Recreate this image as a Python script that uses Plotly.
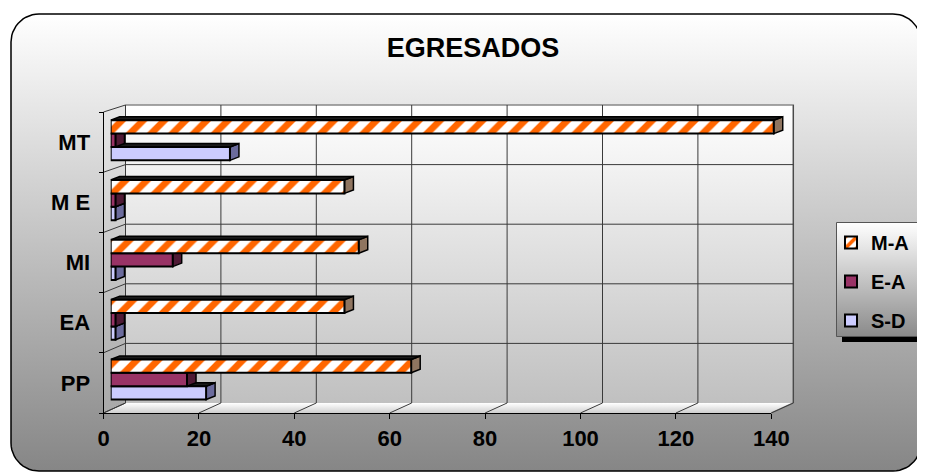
import numpy as np
import plotly.graph_objects as go

# ---------------- data ----------------
categories = ["PP", "EA", "MI", "M E", "MT"]
values_sd = [20, 1, 1, 1, 25]
values_ea = [16, 1, 13, 1, 1]
values_ma = [63, 49, 52, 49, 139]
x_ticks = [0, 20, 40, 60, 80, 100, 120, 140]
title_text = "EGRESADOS"

# ---------------- geometry (viewport pixels) ----------------
W, H = 925, 473
OFF = 8               # page body margin
PXU = 4.77            # pixels per value unit
FRONT0 = 103.5        # front axis zero
BACK0 = 125.5         # back wall zero
BAR0 = 110.7          # bar front face zero
WALL_TOP, WALL_BOT = 105, 403
FRONT_TOP, FRONT_BOT = 112, 413
BAR_TOP, BAR_BOT = 110.4, 409.4
FONT = "Liberation Sans, Arial, sans-serif"


def px(x):
    return (x - OFF) / W


def py(y):
    return 1 - (y - OFF) / H


def xf(t):
    return FRONT0 + t * PXU


def xb(t):
    return BACK0 + t * PXU


def poly(xs, ys, top, bottom, line="rgba(0,0,0,0)", lw=1):
    xs = list(xs) + [xs[0]]
    ys = list(ys) + [ys[0]]
    return go.Scatter(
        x=xs, y=[-v for v in ys], mode="lines", fill="toself",
        fillgradient=dict(type="vertical", colorscale=[[0, bottom], [1, top]],
                          start=-max(ys), stop=-min(ys)),
        line=dict(color=line, width=lw), hoverinfo="skip", showlegend=False,
        xaxis="x", yaxis="y")


def rounded(x0, y0, x1, y1, r, n=14):
    pts = []
    for cx, cy, a0 in [(x1 - r, y0 + r, -90), (x1 - r, y1 - r, 0),
                       (x0 + r, y1 - r, 90), (x0 + r, y0 + r, 180)]:
        for a in np.linspace(a0, a0 + 90, n):
            pts.append((cx + r * np.cos(np.radians(a)), cy + r * np.sin(np.radians(a))))
    return [p[0] for p in pts], [p[1] for p in pts]


fig = go.Figure()

# outer frame
fx, fy = rounded(11, 14, 921, 471, 28)
fig.add_trace(poly(fx, fy, "#ffffff", "#868686", line="#000000", lw=1.5))

# back wall, side wall, floor
fig.add_trace(poly([xb(0), xb(140), xb(140), xb(0)],
                   [WALL_TOP, WALL_TOP, WALL_BOT, WALL_BOT], "#ffffff", "#c0c0c0"))
fig.add_trace(poly([FRONT0, xb(0), xb(0), FRONT0],
                   [FRONT_TOP, WALL_TOP, WALL_BOT, FRONT_BOT], "#e8e8e8", "#a8a8a8"))
fig.add_trace(poly([FRONT0, xb(0), xb(140), xf(140)],
                   [FRONT_BOT, WALL_BOT, WALL_BOT, FRONT_BOT], "#ffffff", "#cfcfcf"))

# wall border (gray)
fig.add_trace(go.Scatter(
    x=[xb(0), xb(140), xb(140), xf(140)],
    y=[-WALL_TOP, -WALL_TOP, -WALL_BOT, -FRONT_BOT],
    mode="lines", line=dict(color="#888888", width=1.5), hoverinfo="skip",
    showlegend=False, xaxis="x", yaxis="y"))

# grid lines on back wall, floor and side wall
gx, gy = [], []
for t in x_ticks:
    gx += [xb(t), xb(t), None]
    gy += [-WALL_TOP, -WALL_BOT, None]
    gx += [xf(t), xb(t), None]
    gy += [-FRONT_BOT, -WALL_BOT, None]
nb = len(categories)
for k in range(nb + 1):
    yb_ = WALL_TOP + k * (WALL_BOT - WALL_TOP) / nb
    yf_ = FRONT_TOP + k * (FRONT_BOT - FRONT_TOP) / nb
    if 0 < k < nb:
        gx += [xb(0), xb(140), None]
        gy += [-yb_, -yb_, None]
    gx += [FRONT0, xb(0), None]
    gy += [-yf_, -yb_, None]
fig.add_trace(go.Scatter(x=gx, y=gy, mode="lines", line=dict(color="#3a3a3a", width=1),
                         hoverinfo="skip", showlegend=False, xaxis="x", yaxis="y"))

# legend box with shadow
fig.add_trace(poly([842, 927, 927, 842], [228, 228, 342, 342], "#000000", "#000000"))
fig.add_trace(poly([836.5, 921.5, 921.5, 836.5], [222.5, 222.5, 336.5, 336.5],
                   "#ffffff", "#8a8a8a", line="#555555", lw=1))

# ---------------- bars ----------------
series = [
    ("S-D", values_sd, dict(color="#ccccff"), "#6b6b9c", 3),
    ("E-A", values_ea, dict(color="#993366"), "#4f1a35", 2),
    ("M-A", values_ma, dict(color="#ffffff",
                            pattern=dict(shape="/", fgcolor="#ff6600", bgcolor="#ffffff",
                                         size=15, solidity=0.45, fillmode="replace")),
     "#8f7560", 1),
]
for name, vals, mk, _, rank in series:
    fig.add_trace(go.Bar(
        y=categories, x=vals, name=name, orientation="h",
        marker=dict(line=dict(color="#000000", width=2), **mk),
        xaxis="x2", yaxis="y2", legendgroup=name, legendrank=rank, hoverinfo="skip"))

# invisible trace so the front (label) axes get drawn
fig.add_trace(go.Scatter(x=[0], y=[0], mode="markers", marker=dict(opacity=0),
                         xaxis="x3", yaxis="y3", showlegend=False, hoverinfo="skip"))

BARGAP = 0.33
bw = (1 - BARGAP) / len(series)
DX = 9 / PXU
DY = 3.5 / ((BAR_BOT - BAR_TOP) / nb)
shapes = []
for i, (name, vals, mk, capcol, _) in enumerate(series):
    for c, v in enumerate(vals):
        yb0 = c - (1 - BARGAP) / 2 + i * bw
        yt0 = yb0 + bw
        shapes.append(dict(
            type="path", xref="x2", yref="y2", layer="between",
            path=f"M {v},{yb0} L {v + DX},{yb0 + DY} L {v + DX},{yt0 + DY} L {v},{yt0} Z",
            fillcolor=capcol, line=dict(color="#000000", width=1.5)))
        shapes.append(dict(
            type="path", xref="x2", yref="y2", layer="between",
            path=f"M 0,{yt0} L {DX},{yt0 + DY} L {v + DX},{yt0 + DY} L {v},{yt0} Z",
            fillcolor="#1a1a1a", line=dict(color="#000000", width=1.5)))

tickfont = dict(family=FONT, size=22, color="#000000", weight="bold")

fig.update_layout(
    width=W, height=H, autosize=False,
    margin=dict(l=0, r=0, t=0, b=0, pad=0, autoexpand=False),
    paper_bgcolor="#ffffff", plot_bgcolor="rgba(0,0,0,0)",
    barmode="group", bargap=BARGAP, bargroupgap=0,
    shapes=shapes,
    title=dict(text=title_text, x=px(473), y=py(48), xanchor="center", yanchor="middle",
               xref="paper", yref="paper",
               font=dict(family=FONT, size=27, color="#000000", weight="bold")),
    legend=dict(x=px(831), y=py(223), xanchor="left", yanchor="top",
                bgcolor="rgba(0,0,0,0)", borderwidth=0, tracegroupgap=10,
                font=dict(family=FONT, size=20, color="#000000", weight="bold")),
    xaxis=dict(domain=[0, 1], range=[OFF, OFF + W], visible=False, fixedrange=True),
    yaxis=dict(domain=[0, 1], range=[-(OFF + H), -OFF], visible=False, fixedrange=True),
    xaxis2=dict(domain=[px(BAR0), px(BAR0 + 142 * PXU)], range=[0, 142], anchor="y2",
                visible=False, fixedrange=True),
    yaxis2=dict(domain=[py(BAR_BOT), py(BAR_TOP)], anchor="x2", type="category",
                categoryorder="array", categoryarray=categories, range=[-0.5, 4.5],
                visible=False, fixedrange=True),
    xaxis3=dict(domain=[px(FRONT0), px(xf(140))], range=[0, 140], anchor="y3",
                tickmode="array", tickvals=x_ticks, ticks="outside", ticklen=5,
                tickcolor="#000000", showline=True, linecolor="#000000", linewidth=1,
                showgrid=False, zeroline=False, tickfont=tickfont, ticklabelstandoff=1,
                automargin=False, fixedrange=True),
    yaxis3=dict(domain=[py(FRONT_BOT), py(FRONT_TOP)], range=[-0.5, 4.5], anchor="x3",
                tickmode="array", tickvals=list(range(nb)), ticktext=categories, ticks="",
                showline=True, linecolor="#000000", linewidth=1, showgrid=False,
                zeroline=False, tickfont=tickfont, ticklabelstandoff=8, automargin=False,
                minor=dict(tickmode="array", tickvals=[k - 0.5 for k in range(nb + 1)],
                           ticks="outside", ticklen=4, tickcolor="#000000", showgrid=False),
                fixedrange=True),
)

fig.write_html("out.html", config={"displayModeBar": False})
